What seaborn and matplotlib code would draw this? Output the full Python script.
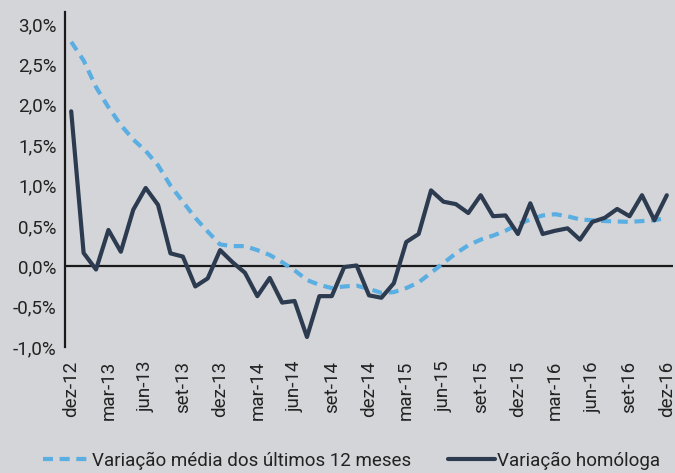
import pandas as pd
import matplotlib.pyplot as plt
import seaborn as sns

# monthly values, dez-12 .. dez-16 (%)
media_12m = [2.78, 2.55, 2.22, 1.97, 1.75, 1.57, 1.43, 1.25, 1.00, 0.80, 0.60, 0.43,
             0.27, 0.25, 0.25, 0.20, 0.14, 0.05, -0.05, -0.17, -0.23, -0.27, -0.25, -0.24,
             -0.28, -0.33, -0.32, -0.27, -0.20, -0.08, 0.04, 0.16, 0.26, 0.33, 0.38, 0.44,
             0.52, 0.58, 0.63, 0.645, 0.62, 0.58, 0.57, 0.56, 0.555, 0.55, 0.56, 0.57, 0.60]
homologa = [1.92, 0.165, -0.04, 0.45, 0.18, 0.70, 0.97, 0.76, 0.16, 0.12, -0.25, -0.15,
            0.20, 0.05, -0.08, -0.37, -0.145, -0.45, -0.43, -0.876, -0.37, -0.37, -0.01, 0.01,
            -0.36, -0.39, -0.21, 0.30, 0.40, 0.94, 0.80, 0.77, 0.66, 0.88, 0.62, 0.63,
            0.40, 0.78, 0.40, 0.44, 0.47, 0.33, 0.55, 0.60, 0.71, 0.62, 0.88, 0.57, 0.88]
tick_labels = ['dez-12', 'mar-13', 'jun-13', 'set-13', 'dez-13', 'mar-14', 'jun-14',
               'set-14', 'dez-14', 'mar-15', 'jun-15', 'set-15', 'dez-15', 'mar-16',
               'jun-16', 'set-16', 'dez-16']
y_ticks = [-1.0, -0.5, 0.0, 0.5, 1.0, 1.5, 2.0, 2.5, 3.0]

df = pd.DataFrame({'mes': range(len(homologa)), 'media': media_12m, 'homologa': homologa})

bg = '#d4d5d8'
sns.set_style('white')
plt.rcParams['font.family'] = ['Roboto', 'DejaVu Sans']

fig, ax = plt.subplots(figsize=(6.75, 4.73), dpi=100)
fig.patch.set_facecolor(bg)
ax.set_facecolor(bg)
fig.subplots_adjust(left=65 / 675, right=673 / 675, top=1 - 12 / 473, bottom=1 - 347 / 473)

ax.axhline(0, color='#1a1a1a', lw=1.6, zorder=1)
sns.lineplot(data=df, x='mes', y='media', ax=ax, color='#5aaee2', lw=3,
             label='Variação média dos últimos 12 meses', zorder=2)
ax.lines[-1].set_dashes((2.4, 1.6))
sns.lineplot(data=df, x='mes', y='homologa', ax=ax, color='#2c3b4f', lw=3,
             label='Variação homóloga', zorder=3)

ax.set_xlim(-0.5, 48.5)
ax.set_ylim(-1.0, 3.15)
ax.set_xticks(range(0, 49, 3))
ax.set_xticklabels(tick_labels, rotation=90)
ax.set_yticks(y_ticks)
ax.set_yticklabels([f'{v:.1f}%'.replace('.', ',') for v in y_ticks])
ax.tick_params(axis='both', length=0, labelsize=13.5, colors='#222222')
ax.tick_params(axis='x', pad=10)
ax.tick_params(axis='y', pad=6)
ax.set_xlabel('')
ax.set_ylabel('')

for s in ['top', 'right', 'bottom']:
    ax.spines[s].set_visible(False)
ax.spines['left'].set_color('#1a1a1a')
ax.spines['left'].set_linewidth(1.6)

handles, labels = ax.get_legend_handles_labels()
ax.get_legend().remove()
fig.legend(handles, labels, loc='center', bbox_to_anchor=(0.521, 0.026), ncol=2,
           frameon=False, fontsize=13.5, handlelength=2.5, handletextpad=0.1,
           columnspacing=2.0, labelcolor='#222222', borderpad=0.1)

fig.savefig('out.png', dpi=100, facecolor=bg)
